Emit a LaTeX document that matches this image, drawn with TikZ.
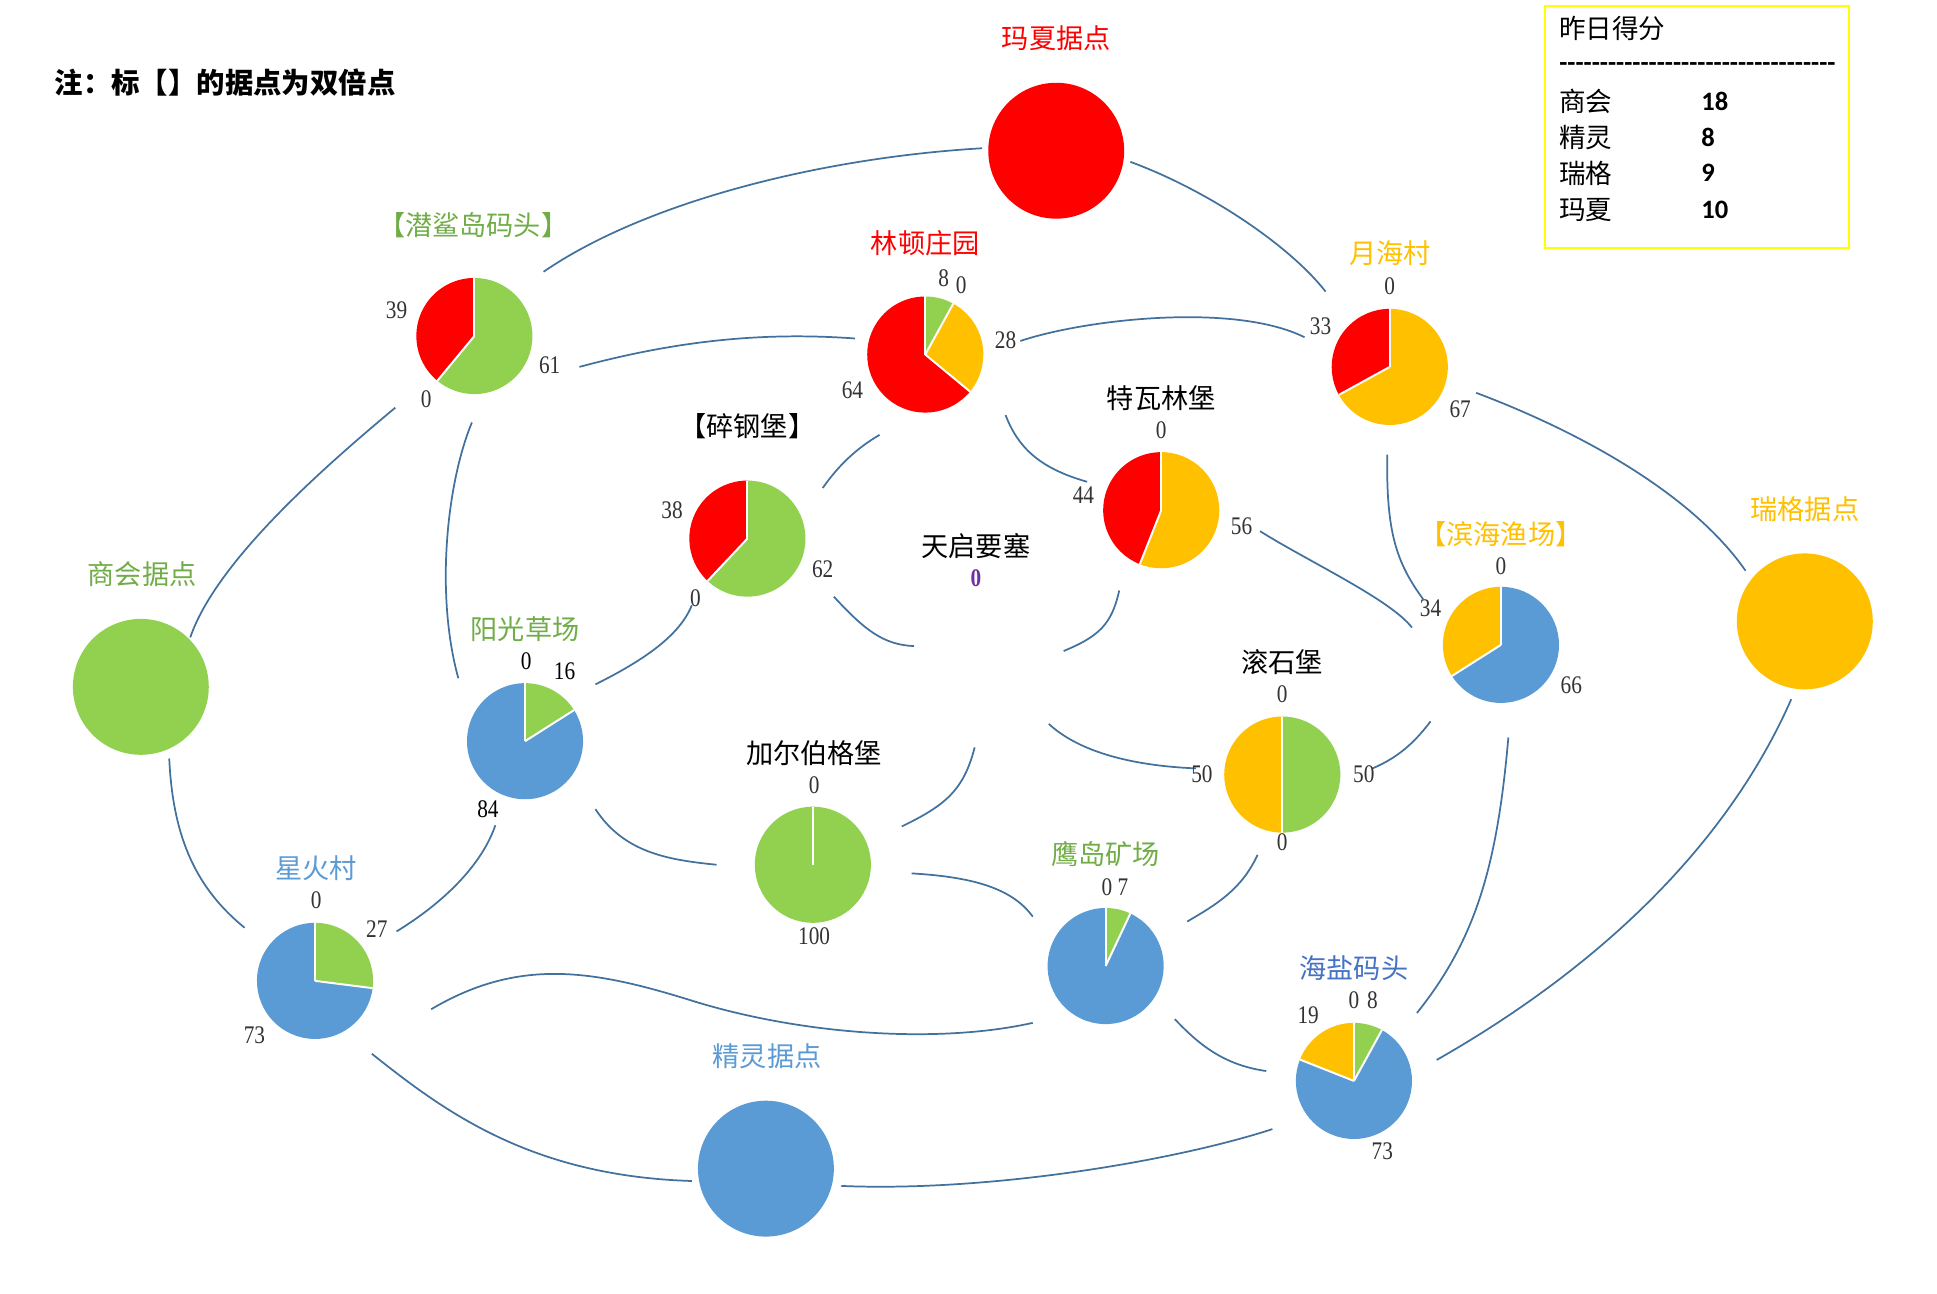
\documentclass[tikz,border=0pt]{standalone}
\usepackage{fontspec}
\setmainfont{Liberation Serif}
\newfontfamily\cjk{Noto Sans CJK SC}
\newfontfamily\numf[FakeStretch=0.84]{Liberation Serif}
\newfontfamily\legf{Carlito}
\definecolor{cgreen}{HTML}{92D050}
\definecolor{cred}{HTML}{FF0000}
\definecolor{cyel}{HTML}{FFC000}
\definecolor{cblue}{HTML}{5B9BD5}
\definecolor{tgreen}{HTML}{70AD47}
\definecolor{tblue}{HTML}{5B9BD5}
\definecolor{tblue2}{HTML}{4472C4}
\definecolor{numc}{HTML}{333333}
\definecolor{linec}{HTML}{41719C}
\definecolor{tpurple}{HTML}{7030A0}
\definecolor{boxyel}{HTML}{FFFF00}
\newcommand\drawpie[2]{%
  \foreach \pa/\pb/\pc in {#2}{%
    \fill[\pc] (#1.center) -- ++({90-\pa}:47pt) arc[start angle={90-\pa}, end angle={90-\pb}, radius=47pt] -- cycle;}%
  \foreach \pa/\pb/\pc in {#2}{%
    \draw[white, line width=1.6pt] (#1.center) -- ++({90-\pa}:47pt);}%
}
\begin{document}
\begin{tikzpicture}[x=1pt,y=-1pt,
  conn/.style={draw=linec, line width=1.4pt},
  lab/.style={font=\cjk\fontsize{22}{22}\selectfont, inner sep=0pt},
  num/.style={font=\numf\fontsize{20.5}{20.5}\selectfont, text=numc, inner sep=0pt},
  bigc/.style={circle, minimum size=110pt, inner sep=0pt},
  pienode/.style={circle, minimum size=94pt, inner sep=0pt},
  legtxt/.style={font=\cjk\fontsize{21.5}{21.5}\selectfont, inner sep=0pt, anchor=west},
  legnum/.style={font=\legf\bfseries\fontsize{21.5}{21.5}\selectfont, inner sep=0pt, anchor=west}]
\useasboundingbox[fill=white] (0,0) rectangle (1568,1047);

% note
\node[font=\cjk\bfseries\fontsize{23}{23}\selectfont, inner sep=0pt, anchor=west] (note) at (44,67) {注：标【】的据点为双倍点};

% ---------- connectors ----------
\coordinate (e1s) at (440,220);   \coordinate (e1t) at (795,120);
\coordinate (e2s) at (915,131);   \coordinate (e2t) at (1073,236);
\coordinate (e3s) at (469,297);   \coordinate (e3t) at (692,274);
\coordinate (e4s) at (826,276);   \coordinate (e4t) at (1056,273);
\coordinate (e5s) at (1195,318);  \coordinate (e5t) at (1413,462);
\coordinate (e6s) at (1123,368);  \coordinate (e6t) at (1152,485);
\coordinate (e7s) at (320,330);   \coordinate (e7t) at (154,516);
\coordinate (e8s) at (382,342);   \coordinate (e8t) at (371,549);
\coordinate (e9s) at (137,614);   \coordinate (e9t) at (198,751);
\coordinate (e10s) at (321,754);  \coordinate (e10t) at (401,668);
\coordinate (e11s) at (482,554);  \coordinate (e11t) at (560,490);
\coordinate (e12s) at (482,655);  \coordinate (e12t) at (580,700);
\coordinate (e13s) at (666,395);  \coordinate (e13t) at (712,352);
\coordinate (e14s) at (814,336);  \coordinate (e14t) at (880,390);
\coordinate (e15s) at (675,483);  \coordinate (e15t) at (740,523);
\coordinate (e16s) at (906,478);  \coordinate (e16t) at (861,527);
\coordinate (e17s) at (1020,430); \coordinate (e17t) at (1143,508);
\coordinate (e18s) at (849,586);  \coordinate (e18t) at (968,622);
\coordinate (e19s) at (789,605);  \coordinate (e19t) at (730,669);
\coordinate (e20s) at (738,707);  \coordinate (e20t) at (836,742);
\coordinate (e21s) at (349,817);  \coordinate (e21m) at (560,810); \coordinate (e21t) at (836,828);
\coordinate (e22s) at (301,853);  \coordinate (e22t) at (560,956);
\coordinate (e23s) at (681,960);  \coordinate (e23t) at (1030,914);
\coordinate (e24s) at (951,825);  \coordinate (e24t) at (1025,867);
\coordinate (e25s) at (1018,692); \coordinate (e25t) at (961,746);
\coordinate (e26s) at (1111,622); \coordinate (e26t) at (1158,584);
\coordinate (e27s) at (1221,597); \coordinate (e27t) at (1147,820);
\coordinate (e28s) at (1450,566); \coordinate (e28t) at (1163,858);

\draw[conn] (e1s) .. controls (520,165) and (660,128) .. (e1t);
\draw[conn] (e2s) .. controls (980,155) and (1045,200) .. (e2t);
\draw[conn] (e3s) .. controls (540,278) and (610,268) .. (e3t);
\draw[conn] (e4s) .. controls (880,258) and (1000,245) .. (e4t);
\draw[conn] (e5s) .. controls (1280,350) and (1370,400) .. (e5t);
\draw[conn] (e6s) .. controls (1122,430) and (1130,455) .. (e6t);
\draw[conn] (e7s) .. controls (260,380) and (175,455) .. (e7t);
\draw[conn] (e8s) .. controls (362,390) and (352,480) .. (e8t);
\draw[conn] (e9s) .. controls (140,680) and (160,720) .. (e9t);
\draw[conn] (e10s) .. controls (360,730) and (390,700) .. (e10t);
\draw[conn] (e11s) .. controls (520,535) and (550,515) .. (e11t);
\draw[conn] (e12s) .. controls (505,690) and (540,696) .. (e12t);
\draw[conn] (e13s) .. controls (680,375) and (695,362) .. (e13t);
\draw[conn] (e14s) .. controls (825,365) and (845,380) .. (e14t);
\draw[conn] (e15s) .. controls (700,510) and (715,522) .. (e15t);
\draw[conn] (e16s) .. controls (900,505) and (890,515) .. (e16t);
\draw[conn] (e17s) .. controls (1060,455) and (1125,485) .. (e17t);
\draw[conn] (e18s) .. controls (875,610) and (920,620) .. (e18t);
\draw[conn] (e19s) .. controls (780,640) and (765,652) .. (e19t);
\draw[conn] (e20s) .. controls (790,710) and (820,720) .. (e20t);
\draw[conn] (e21s) .. controls (420,775) and (480,785) .. (e21m) .. controls (650,838) and (760,845) .. (e21t);
\draw[conn] (e22s) .. controls (360,900) and (430,952) .. (e22t);
\draw[conn] (e23s) .. controls (800,965) and (950,940) .. (e23t);
\draw[conn] (e24s) .. controls (970,845) and (990,862) .. (e24t);
\draw[conn] (e25s) .. controls (1005,720) and (985,732) .. (e25t);
\draw[conn] (e26s) .. controls (1135,612) and (1148,597) .. (e26t);
\draw[conn] (e27s) .. controls (1212,700) and (1195,760) .. (e27t);
\draw[conn] (e28s) .. controls (1400,680) and (1300,780) .. (e28t);

% ---------- big circles ----------
\node[bigc, fill=cred] (mx) at (855,122) {};
\node[lab, text=cred] (mxl) at (855,31) {玛夏据点};
\node[bigc, fill=cgreen] (sh) at (114,556) {};
\node[lab, text=tgreen] (shl) at (115,465) {商会据点};
\node[bigc, fill=cyel] (rg) at (1461,503) {};
\node[lab, text=cyel] (rgl) at (1461,412) {瑞格据点};
\node[bigc, fill=cblue] (jl) at (620,946) {};
\node[lab, text=tblue] (jll) at (621,855) {精灵据点};

% ---------- pies ----------
\node[pienode] (qs) at (384,272) {};
\drawpie{qs}{0/219.6/cgreen, 219.6/360/cred}
\node[lab, text=tgreen] (qsl) at (383,182) {【潜鲨岛码头】};

\node[pienode] (ld) at (749,287) {};
\drawpie{ld}{0/28.8/cgreen, 28.8/129.6/cyel, 129.6/360/cred}
\node[lab, text=cred] (ldl) at (749,197) {林顿庄园};

\node[pienode] (yh) at (1125,297) {};
\drawpie{yh}{0/241.2/cyel, 241.2/360/cred}
\node[lab, text=cyel] (yhl) at (1125,205) {月海村};

\node[pienode] (tw) at (940,413) {};
\drawpie{tw}{0/201.6/cyel, 201.6/360/cred}
\node[lab] (twl) at (940,322) {特瓦林堡};

\node[pienode] (sg) at (605,436) {};
\drawpie{sg}{0/223.2/cgreen, 223.2/360/cred}
\node[lab] (sgl) at (605,345) {【碎钢堡】};

\node[lab] (tql) at (790,442) {天启要塞};

\node[pienode] (yg) at (425,600) {};
\drawpie{yg}{0/57.6/cgreen, 57.6/360/cblue}
\node[lab, text=tgreen] (ygl) at (425,509) {阳光草场};

\node[pienode] (bh) at (1215,522) {};
\drawpie{bh}{0/237.6/cblue, 237.6/360/cyel}
\node[lab, text=cyel] (bhl) at (1215,432) {【滨海渔场】};

\node[pienode] (gs) at (1038,627) {};
\drawpie{gs}{0/180/cgreen, 180/360/cyel}
\node[lab] (gsl) at (1038,536) {滚石堡};

\node[pienode] (je) at (658,700) {};
\drawpie{je}{0/360/cgreen}
\node[lab] (jel) at (659,610) {加尔伯格堡};

\node[pienode] (yd) at (895,782) {};
\drawpie{yd}{0/25.2/cgreen, 25.2/360/cblue}
\node[lab, text=tgreen] (ydl) at (895,691) {鹰岛矿场};

\node[pienode] (xh) at (255,794) {};
\drawpie{xh}{0/97.2/cgreen, 97.2/360/cblue}
\node[lab, text=tblue] (xhl) at (256,703) {星火村};

\node[pienode] (hy) at (1096,875) {};
\drawpie{hy}{0/28.8/cgreen, 28.8/291.6/cblue, 291.6/360/cyel}
\node[lab, text=tblue2] (hyl) at (1096,784) {海盐码头};

% ---------- value labels ----------
\node[num] (n1) at (321,251) {39};
\node[num] (n2) at (445,296) {61};
\node[num] (n3) at (345,323) {0};
\node[num] (n4) at (764,225) {8};
\node[num] (n5) at (778,231) {0};
\node[num] (n6) at (814,275) {28};
\node[num] (n7) at (690,316) {64};
\node[num] (n8) at (1125,232) {0};
\node[num] (n9) at (1069,264) {33};
\node[num] (n10) at (1182,331) {67};
\node[num] (n11) at (940,348) {0};
\node[num] (n12) at (877,401) {44};
\node[num] (n13) at (1005,426) {56};
\node[num] (n14) at (544,413) {38};
\node[num] (n15) at (666,461) {62};
\node[num] (n16) at (563,484) {0};
\node[num, text=tpurple, font=\numf\bfseries\fontsize{20.5}{20.5}\selectfont] (n17) at (790,468) {0};
\node[num, text=black] (n18) at (426,535) {0};
\node[num, text=black] (n19) at (457,543) {16};
\node[num, text=black] (n20) at (395,655) {84};
\node[num] (n21) at (1215,458) {0};
\node[num] (n22) at (1158,492) {34};
\node[num] (n23) at (1272,555) {66};
\node[num] (n24) at (1038,562) {0};
\node[num] (n25) at (973,627) {50};
\node[num] (n26) at (1104,627) {50};
\node[num] (n27) at (1038,682) {0};
\node[num] (n28) at (659,636) {0};
\node[num] (n29) at (659,758) {100};
\node[num] (n30) at (896,718) {0};
\node[num] (n31) at (909,718) {7};
\node[num] (n32) at (256,729) {0};
\node[num] (n33) at (305,752) {27};
\node[num] (n34) at (206,838) {73};
\node[num] (n35) at (1096,810) {0};
\node[num] (n36) at (1111,810) {8};
\node[num] (n37) at (1059,822) {19};
\node[num] (n38) at (1119,932) {73};

% ---------- legend ----------
\node[draw=boxyel, line width=1.5pt, minimum width=246pt, minimum height=196pt, inner sep=0pt, anchor=north west] (legend) at (1250,4) {};
\node[legtxt] (lt) at (1262,23) {昨日得分};
\node[legnum] (ld1) at (1262,54) {\foreach \i in {1,...,34}{-}};
\node[legtxt] (lr1) at (1262,82) {商会};
\node[legnum] (lv1) at (1377,82) {18};
\node[legtxt] (lr2) at (1262,111) {精灵};
\node[legnum] (lv2) at (1377,111) {8};
\node[legtxt] (lr3) at (1262,140) {瑞格};
\node[legnum] (lv3) at (1377,140) {9};
\node[legtxt] (lr4) at (1262,170) {玛夏};
\node[legnum] (lv4) at (1377,170) {10};
\end{tikzpicture}
\end{document}
